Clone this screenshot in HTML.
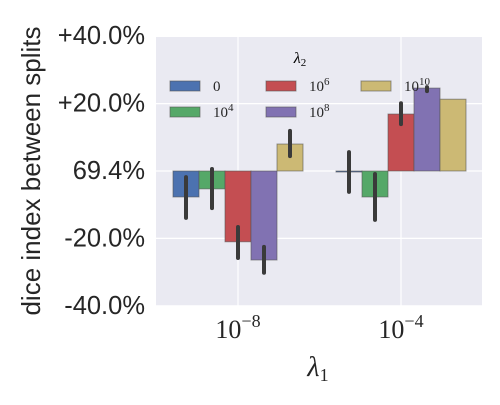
<!DOCTYPE html>
<html><head><meta charset="utf-8"><style>
body{margin:0;background:#fff;}
svg text{font-family:"Liberation Sans",sans-serif;}
.serif{font-family:"Liberation Serif","DejaVu Serif",serif;}
</style></head><body>
<svg id="chart" width="500" height="400" xmlns="http://www.w3.org/2000/svg">
<rect x="156" y="37" width="326" height="269" fill="#eaeaf2"/>
<g id="grid"></g>
<g id="bars"></g>
<g id="errs"></g>
<g id="yticks"></g>
<text x="238" y="338" font-size="26" text-anchor="middle" class="serif" fill="#262626">10<tspan dy="-11" font-size="18">−8</tspan></text>
<text x="401" y="338" font-size="26" text-anchor="middle" class="serif" fill="#262626">10<tspan dy="-11" font-size="18">−4</tspan></text>
<text x="318" y="376" font-size="28" text-anchor="middle" class="serif" font-style="italic" fill="#262626">λ<tspan font-style="normal" font-size="18" dy="5">1</tspan></text>
<text transform="translate(40,171) rotate(-90)" font-size="26" text-anchor="middle" fill="#262626">dice index between splits</text>
<g id="legend">
<text x="300" y="63" font-size="16" text-anchor="middle" class="serif" font-style="italic">λ<tspan font-style="normal" font-size="11" dy="3">2</tspan></text>
</g>
</svg>
<script>
const groups=["1e-8","1e-4"];
const seriesNames=["0","10^4","10^6","10^8","10^10"];
const seriesLabels=[["0",""],["10","4"],["10","6"],["10","8"],["10","10"]];
const colors=["#4c72b0","#55a868","#c44e52","#8172b2","#ccb974"];
const values1e8=[-7.7,-5.3,-21.0,-26.4,8.0];
const values1e4=[-0.3,-7.7,16.9,24.6,21.3];
const errLow1e8=[-13.9,-11.0,-25.8,-30.2,4.4];
const errHigh1e8=[-1.8,0.6,-16.6,-22.5,11.9];
const errLow1e4=[-6.2,-14.5,13.9,23.7,null];
const errHigh1e4=[5.6,-0.9,20.1,24.9,null];
const yTicks=[40,20,0,-20,-40];
const yTickLabels=["+40.0%","+20.0%","69.4%","-20.0%","-40.0%"];
const NS="http://www.w3.org/2000/svg";
const y=v=>171-v*67.4/20;
const gx=i=>238+i*163;
const bw=26;
function mk(t,a,p){const e=document.createElementNS(NS,t);for(const k in a)e.setAttribute(k,a[k]);p.appendChild(e);return e;}
const grid=document.getElementById('grid');
yTicks.forEach((t,i)=>{
 const l=mk('line',{x1:156,x2:482,y1:y(t),y2:y(t),stroke:'#fff','stroke-width':1.2},grid);
 
 
 const tx=mk('text',{x:145,y:y(t)+8,'font-size':25.5,'text-anchor':'end',fill:'#262626'},document.getElementById('yticks'));
 tx.textContent=yTickLabels[i];
 
 
});
groups.forEach((g,i)=>{
 const l=mk('line',{x1:gx(i),x2:gx(i),y1:37,y2:306,stroke:'#fff','stroke-width':1.2},grid);
 
 
});
const vals=[values1e8,values1e4],lo=[errLow1e8,errLow1e4],hi=[errHigh1e8,errHigh1e4];
const bars=document.getElementById('bars'),errs=document.getElementById('errs');
groups.forEach((g,gi)=>{
 seriesNames.forEach((s,si)=>{
  const x0=gx(gi)-2.5*bw+si*bw, v=vals[gi][si];
  const r=mk('rect',{x:x0,y:Math.min(y(v),y(0)),width:bw,height:Math.max(Math.abs(y(v)-y(0)),0.8),fill:colors[si],stroke:'#555','stroke-opacity':0.6,'stroke-width':1},bars);
  
  
  if(lo[gi][si]!==null){
   const e=mk('line',{x1:x0+bw/2,x2:x0+bw/2,y1:y(lo[gi][si]),y2:y(hi[gi][si]),stroke:'#3a3a3a','stroke-width':4,'stroke-linecap':'round'},errs);
   
   
  }
 });
});
const leg=document.getElementById('legend');
const cols=[170,266,361],rows=[86,112];
seriesNames.forEach((s,i)=>{
 const c=Math.floor(i/2),r=i%2;
 const p=mk('rect',{x:cols[c],y:rows[r]-5,width:30,height:10,fill:colors[i],stroke:'#555','stroke-opacity':0.6},leg);
 
 
 const t=mk('text',{x:cols[c]+43,y:rows[r]+5,'font-size':15,class:'serif',fill:'#262626'},leg);
 t.textContent=seriesLabels[i][0];
 if(seriesLabels[i][1]){const sp=mk('tspan',{dy:-6,'font-size':11},t);sp.textContent=seriesLabels[i][1];}
 
 
});
</script>
</body></html>
